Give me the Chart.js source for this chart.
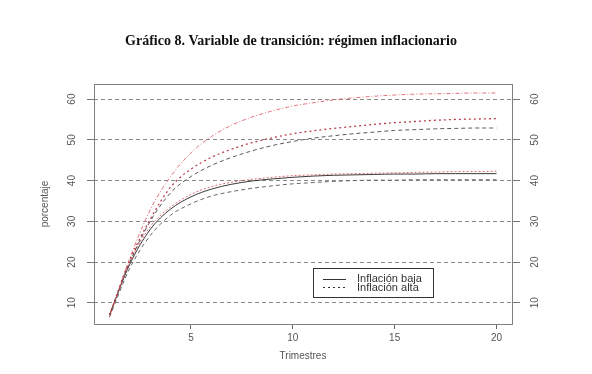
<!DOCTYPE html>
<html>
<head>
<meta charset="utf-8">
<script src="https://cdn.jsdelivr.net/npm/chart.js@4.4.1/dist/chart.umd.min.js"></script>
<style>
  html, body { margin: 0; padding: 0; background: #fff; }
  #wrap { width: 592px; height: 374px; position: relative; }
</style>
</head>
<body>
<div id="wrap"><canvas id="grafico8" width="592" height="374"></canvas></div>
<script>
/* --- Datos --- */
const trimestres = [1, 2, 3, 4, 5, 6, 7, 8, 9, 10, 11, 12, 13, 14, 15, 16, 17, 18, 19, 20];
const altaSuperior = [6.5, 21, 32.8, 41, 46.8, 50.8, 53.6, 55.6, 57.1, 58.3, 59.1, 59.8, 60.3, 60.7, 61, 61.2, 61.3, 61.4, 61.5, 61.5];
const altaCentral = [7, 20.5, 30.5, 38.4, 42.8, 45.7, 47.7, 49.3, 50.5, 51.5, 52.2, 52.8, 53.3, 53.8, 54.2, 54.5, 54.8, 55, 55.1, 55.2];
const altaInferior = [7, 20, 30, 37, 41, 43.7, 45.7, 47.3, 48.6, 49.6, 50.4, 51, 51.5, 51.9, 52.3, 52.5, 52.7, 52.8, 52.9, 52.9];
const bajaSuperior = [7, 20, 28.7, 33.5, 36.6, 38.5, 39.6, 40.3, 40.8, 41.2, 41.4, 41.6, 41.7, 41.8, 41.9, 42, 42.1, 42.2, 42.2, 42.3];
const bajaCentral = [7, 19.5, 28, 33, 36, 37.9, 39.1, 39.9, 40.4, 40.8, 41.1, 41.3, 41.4, 41.5, 41.6, 41.6, 41.7, 41.7, 41.7, 41.7];
const bajaInferior = [6.5, 18.5, 26.5, 31.5, 34.3, 36.2, 37.3, 38.1, 38.7, 39.2, 39.5, 39.8, 40, 40.1, 40.1, 40.2, 40.2, 40.2, 40.2, 40.2];
const xTicks = [5, 10, 15, 20];
const yTicks = [10, 20, 30, 40, 50, 60];
const titulo = 'Gráfico 8. Variable de transición: régimen inflacionario';
const leyenda = ['Inflación baja', 'Inflación alta'];

const pares = (ys) => trimestres.map((x, i) => ({ x, y: ys[i] }));
const serie = (data, color, dash, width) => ({
    data: pares(data),
    borderColor: color,
    borderDash: dash,
    borderWidth: width,
    pointRadius: 0,
    fill: false,
    cubicInterpolationMode: 'monotone'
});

const SANS = '"Liberation Sans", Arial, sans-serif';

/* --- Texto, caja y leyenda --- */
const decoracion = {
    id: 'decoracion',
    afterDraw(chart) {
        const { ctx, chartArea: a, scales } = chart;
        ctx.save();

        // titulo
        ctx.fillStyle = '#111';
        ctx.font = 'bold 14px "Liberation Serif", "Times New Roman", serif';
        ctx.textAlign = 'center';
        ctx.textBaseline = 'middle';
        ctx.fillText(titulo, 291, 41);

        // caja
        ctx.strokeStyle = '#808080';
        ctx.lineWidth = 1;
        ctx.setLineDash([]);
        ctx.strokeRect(a.left + 0.5, a.top + 0.5, a.right - a.left, a.bottom - a.top);

        // etiquetas eje y (giradas, ambos lados)
        ctx.font = '10px ' + SANS;
        ctx.fillStyle = '#555';
        yTicks.forEach(v => {
            const py = scales.y.getPixelForValue(v);
            [72, 535].forEach(px => {
                ctx.save();
                ctx.translate(px, py);
                ctx.rotate(-Math.PI / 2);
                ctx.fillText(String(v), 0, 0);
                ctx.restore();
            });
        });

        // titulo eje y
        ctx.save();
        ctx.translate(45, (a.top + a.bottom) / 2);
        ctx.rotate(-Math.PI / 2);
        ctx.fillText('porcentaje', 0, 0);
        ctx.restore();

        // leyenda
        const lx = 313, ly = 268, lw = 120, lh = 29;
        ctx.strokeStyle = '#333';
        ctx.strokeRect(lx + 0.5, ly + 0.5, lw, lh);
        ctx.textAlign = 'left';
        ctx.font = '11px ' + SANS;
        ctx.fillStyle = '#333';
        const estilos = [[], [2, 3]];
        leyenda.forEach((txt, i) => {
            const yy = ly + 10.5 + i * 8.5;
            ctx.setLineDash(estilos[i]);
            ctx.lineWidth = 1;
            ctx.strokeStyle = '#333';
            ctx.beginPath();
            ctx.moveTo(323, Math.round(yy) + 0.5);
            ctx.lineTo(346, Math.round(yy) + 0.5);
            ctx.stroke();
            ctx.fillText(txt, 357, yy + 0.5);
        });
        ctx.restore();
    }
};

const ctx = document.getElementById('grafico8').getContext('2d');
new Chart(ctx, {
    type: 'line',
    data: {
        datasets: [
            serie(altaSuperior, 'rgba(220,80,90,0.8)', [1, 2, 4, 2], 1),
            serie(altaCentral, 'rgba(170,30,45,0.85)', [2, 3], 1.3),
            serie(altaInferior, '#5a5a5a', [4, 3], 1),
            serie(bajaSuperior, 'rgba(215,70,80,0.8)', [2, 2], 1),
            serie(bajaCentral, '#3a3a3a', [], 1),
            serie(bajaInferior, '#666', [4, 3], 1)
        ]
    },
    options: {
        responsive: false,
        animation: false,
        devicePixelRatio: 1,
        layout: { padding: { top: 84, left: 0, right: 0, bottom: 0 } },
        plugins: { legend: { display: false }, tooltip: { enabled: false } },
        scales: {
            x: {
                type: 'linear',
                min: 0.24,
                max: 20.76,
                afterBuildTicks: s => { s.ticks = xTicks.map(v => ({ value: v })); },
                afterFit: s => { s.height = 50; },
                border: { display: false },
                grid: { drawOnChartArea: false, drawTicks: true, tickLength: 5, color: '#666' },
                ticks: { autoSkip: false, maxRotation: 0, padding: 3, color: '#555', font: { family: SANS, size: 10 } },
                title: { display: true, text: 'Trimestres', color: '#555', font: { family: SANS, size: 10 }, padding: { top: 0, bottom: 12 } }
            },
            y: {
                position: 'left',
                min: 4.8,
                max: 63.7,
                afterBuildTicks: s => { s.ticks = yTicks.map(v => ({ value: v })); },
                afterFit: s => { s.width = 94; },
                border: { display: false, dash: [4, 3] },
                grid: { color: '#8a8a8a', lineWidth: 1, drawTicks: true, tickLength: 7, tickColor: '#777' },
                ticks: { display: false }
            },
            y2: {
                position: 'right',
                min: 4.8,
                max: 63.7,
                afterBuildTicks: s => { s.ticks = yTicks.map(v => ({ value: v })); },
                afterFit: s => { s.width = 80; },
                border: { display: false },
                grid: { drawOnChartArea: false, drawTicks: true, tickLength: 8, tickColor: '#777' },
                ticks: { display: false }
            }
        }
    },
    plugins: [decoracion]
});
</script>
</body>
</html>
